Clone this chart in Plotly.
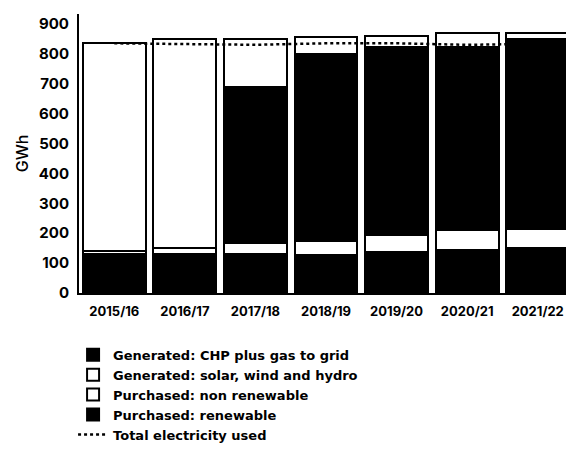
import plotly.graph_objects as go

years = ["2015/16", "2016/17", "2017/18", "2018/19", "2019/20", "2020/21", "2021/22"]
chp_gas = [130, 130, 130, 127, 138, 144, 149]
solar_wind_hydro = [10, 20, 36, 48, 55, 67, 64]
purchased_renewable = [0, 0, 522, 624, 629, 613, 635]
purchased_non_renewable = [697, 700, 160, 58, 36, 47, 20]
total_used = [835, 833, 830, 835, 835, 830, 833]

font_family = "Inter, 'DejaVu Sans', sans-serif"
legend_family = "'DejaVu Sans', sans-serif"
line = dict(color="black", width=2)

fig = go.Figure()
fig.add_trace(go.Bar(x=years, y=chp_gas, name="Generated: CHP plus gas to grid",
                     marker=dict(color="black", line=line), legendrank=1))
fig.add_trace(go.Bar(x=years, y=solar_wind_hydro, name="Generated: solar, wind and hydro",
                     marker=dict(color="white", line=line), legendrank=2))
fig.add_trace(go.Bar(x=years, y=purchased_renewable, name="Purchased: renewable",
                     marker=dict(color="black", line=line), legendrank=4))
fig.add_trace(go.Bar(x=years, y=purchased_non_renewable, name="Purchased: non renewable",
                     marker=dict(color="white", line=line), legendrank=3))
fig.add_trace(go.Scatter(x=years, y=total_used, name="Total electricity used", mode="lines",
                         line=dict(color="black", width=2.5, dash="dot"), legendrank=5))

# page body has an 8px margin, so the figure is offset by 8px in the window
fig.update_layout(
    width=566, height=444,
    barmode="stack", bargap=0.11,
    margin=dict(l=71, r=1, t=6, b=159, autoexpand=False),
    paper_bgcolor="white", plot_bgcolor="white",
    font=dict(family=font_family, color="black", size=12),
    showlegend=True,
    legend=dict(x=-0.012, y=-0.168, xanchor="left", yanchor="top",
                traceorder="normal", tracegroupgap=0,
                font=dict(size=13, family=legend_family, weight="bold"),
                bgcolor="rgba(0,0,0,0)"),
)
fig.update_xaxes(showline=True, linecolor="black", linewidth=2, ticks="",
                 tickfont=dict(size=13, weight="bold"), showgrid=False,
                 ticklabelstandoff=5)
fig.update_yaxes(range=[0, 933], dtick=100, showline=True, linecolor="black", linewidth=2,
                 ticks="", showgrid=False, zeroline=False,
                 tickfont=dict(size=15, weight="bold"), ticklabelstandoff=5,
                 title=dict(text="GWh", font=dict(size=16, weight=500), standoff=6))

fig.write_html("out.html")
